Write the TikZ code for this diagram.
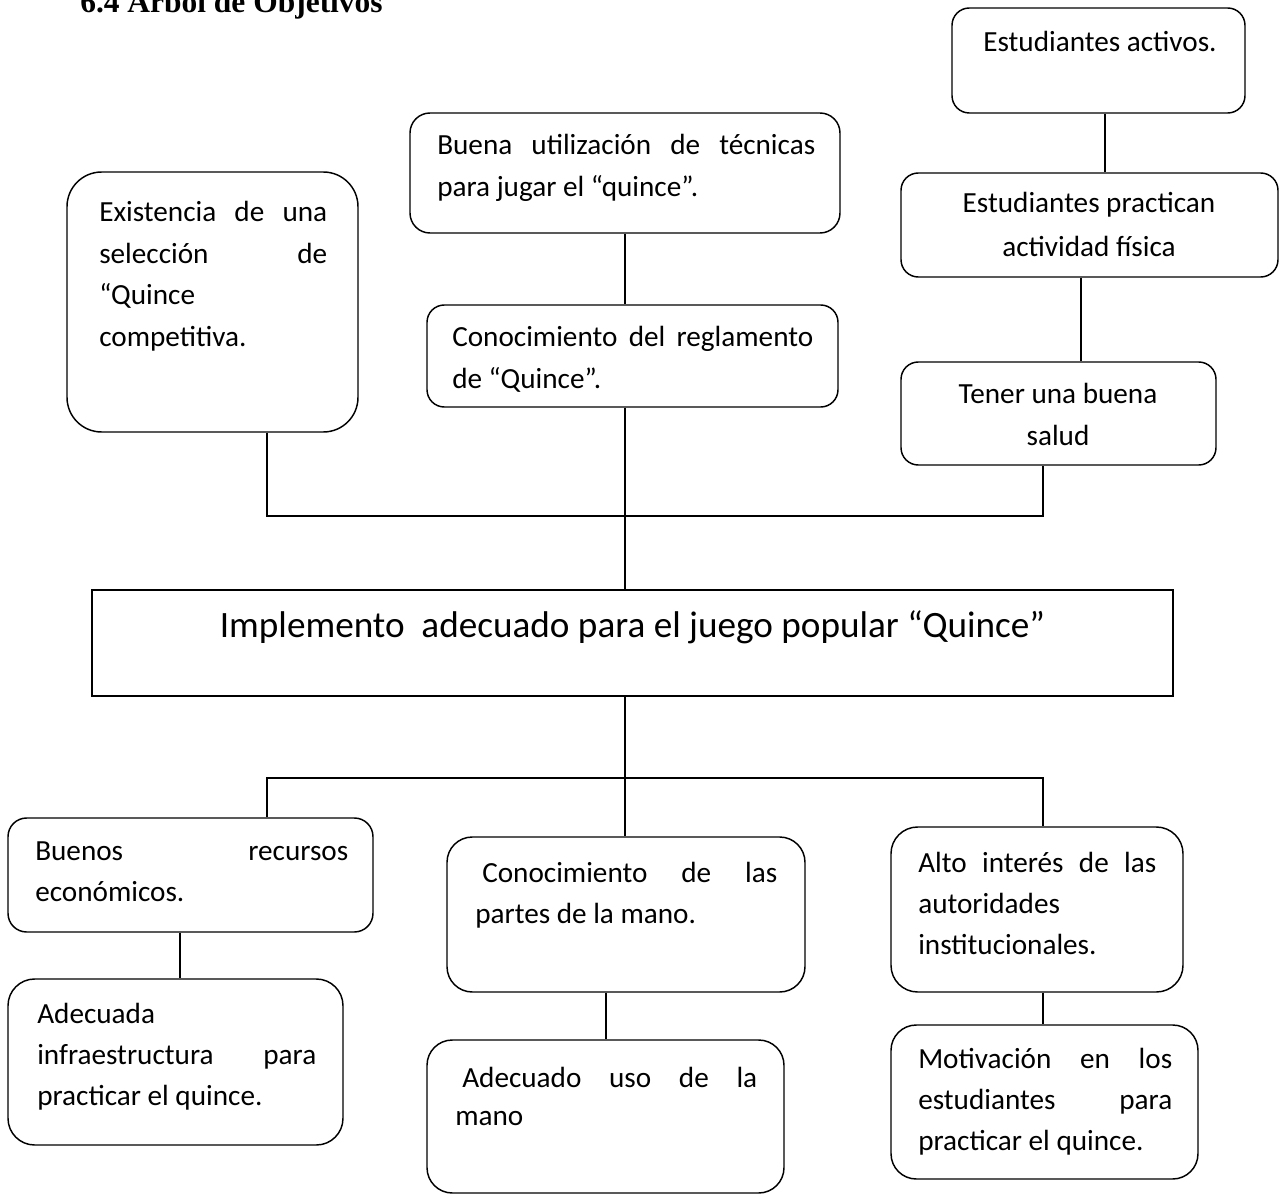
\documentclass[tikz,border=0pt]{standalone}
\usepackage{fontspec}
\setmainfont{Carlito}
\newfontfamily\titlefont{Liberation Serif}
\usetikzlibrary{calc,fit}
\newcommand\boxtext[3][31.1pt]{\vtop{\hsize=#2\parindent=0pt\tolerance=10000\hbadness=10000\fontsize{21.9pt}{#1}\selectfont #3}}
\newcommand\ctrtext[3][31.1pt]{\vtop{\hsize=#2\parindent=0pt\hbadness=10000\fontsize{21.9pt}{#1}\selectfont\centering #3\par}}
\tikzset{
  objbox/.style={draw, line width=1.1pt, inner sep=0pt, rounded corners=#1},
  mainbox/.style={draw, line width=1.3pt, inner sep=0pt},
  txt/.style={anchor=base west, inner sep=0pt},
  ctxt/.style={anchor=base, inner sep=0pt},
  link/.style={line width=0.8pt}
}
\begin{document}
\begin{tikzpicture}[x=0.75pt,y=-0.75pt]
\useasboundingbox (0,0) rectangle (1283,1195);
\fill[white] (0,0) rectangle (1283,1195);

% title (top cut off by page edge)
\node[txt, font={\titlefont\bfseries\fontsize{23.6pt}{28pt}\selectfont}] (title) at (80,13) {6.4 Árbol de Objetivos};

% upper boxes
\node[objbox=26pt, fit={(67,172) (358,432)}] (exist) {};
\node[txt] (texist) at (99,222) {\boxtext{171pt}{Existencia de una\linebreak selección de\linebreak “Quince\newline competitiva.}};

\node[objbox=15pt, fit={(410,113) (840,233)}] (buena) {};
\node[txt] (tbuena) at (437,155) {\boxtext{283.5pt}{Buena utilización de técnicas\linebreak para jugar el “quince”.}};

\node[objbox=13pt, fit={(427,305) (838,407)}] (regl) {};
\node[txt] (tregl) at (452,347) {\boxtext{270.75pt}{Conocimiento del reglamento\linebreak de “Quince”.}};

\node[objbox=13pt, fit={(952,8) (1245,113)}] (act) {};
\node[ctxt, font={\fontsize{21.9pt}{31.1pt}\selectfont}] (tact) at (1100,52) {Estudiantes activos.};

\node[objbox=13pt, fit={(901,173) (1278,277)}] (prac) {};
\node[ctxt] (tprac) at (1089,213) {\ctrtext[33pt]{260pt}{Estudiantes practican\\ actividad física}};

\node[objbox=13pt, fit={(901,362) (1216,465)}] (tener) {};
\node[ctxt] (ttener) at (1058,403) {\ctrtext[31.5pt]{220pt}{Tener una buena\\ salud}};

% main box
\node[mainbox, fit={(92,590) (1173,696)}] (main) {};
\node[ctxt, font={\fontsize{27.9pt}{33pt}\selectfont}] (tmain) at (632.5,637) {Implemento~ adecuado para el juego popular “Quince”};

% lower boxes
\node[objbox=14pt, fit={(8,818) (373,932)}] (buenos) {};
\node[txt] (tbuenos) at (35,860) {\boxtext{234.75pt}{Buenos recursos\linebreak económicos.}};

\node[objbox=20pt, fit={(8,979) (343,1145)}] (adec) {};
\node[txt] (tadec) at (37,1023) {\boxtext{209.25pt}{Adecuada\newline infraestructura para\linebreak practicar el quince.}};

\node[objbox=19pt, fit={(447,837) (805,992)}] (cla) {};
\node[txt] (tcla) at (475,882) {\boxtext{226.5pt}{\hspace*{5.25pt}Conocimiento de las\linebreak partes de la mano.}};

\node[objbox=19pt, fit={(427,1040) (784,1193)}] (uso) {};
\node[txt] (tuso) at (455,1087) {\boxtext[29pt]{226.5pt}{\hspace*{5.25pt}Adecuado uso de la\linebreak mano}};

\node[objbox=20pt, fit={(891,827) (1183,992)}] (alto) {};
\node[txt] (talto) at (918,872) {\boxtext{178.5pt}{Alto interés de las\linebreak autoridades\newline institucionales.}};

\node[objbox=19pt, fit={(891,1025) (1198,1179)}] (motiv) {};
\node[txt] (tmotiv) at (918,1068) {\boxtext{190.5pt}{Motivación en los\linebreak estudiantes para\linebreak practicar el quince.}};

% connector coordinates
\coordinate (hubL) at (267,516);
\coordinate (hubM) at (625,516);
\coordinate (hubR) at (1043,516);
\coordinate (lowL) at (267,778);
\coordinate (lowM) at (625,778);
\coordinate (lowR) at (1043,778);
\coordinate (xact) at (1105,0);
\coordinate (xprac) at (1081,0);
\coordinate (xbuenos) at (180,0);
\coordinate (xcla) at (606,0);
\coordinate (xalto) at (1043,0);

% connectors
\draw[link] (buena.south -| hubM) -- (regl.north -| hubM);
\draw[link] (act.south -| xact) -- (prac.north -| xact);
\draw[link] (prac.south -| xprac) -- (tener.north -| xprac);
\draw[link] (exist.south -| hubL) -- (hubL) -- (hubR) -- (tener.south -| hubR);
\draw[link] (regl.south -| hubM) -- (main.north -| hubM);
\draw[link] (main.south -| lowM) -- (cla.north -| lowM);
\draw[link] (buenos.north -| lowL) -- (lowL) -- (lowR) -- (alto.north -| lowR);
\draw[link] (buenos.south -| xbuenos) -- (adec.north -| xbuenos);
\draw[link] (cla.south -| xcla) -- (uso.north -| xcla);
\draw[link] (alto.south -| xalto) -- (motiv.north -| xalto);
\end{tikzpicture}
\end{document}
